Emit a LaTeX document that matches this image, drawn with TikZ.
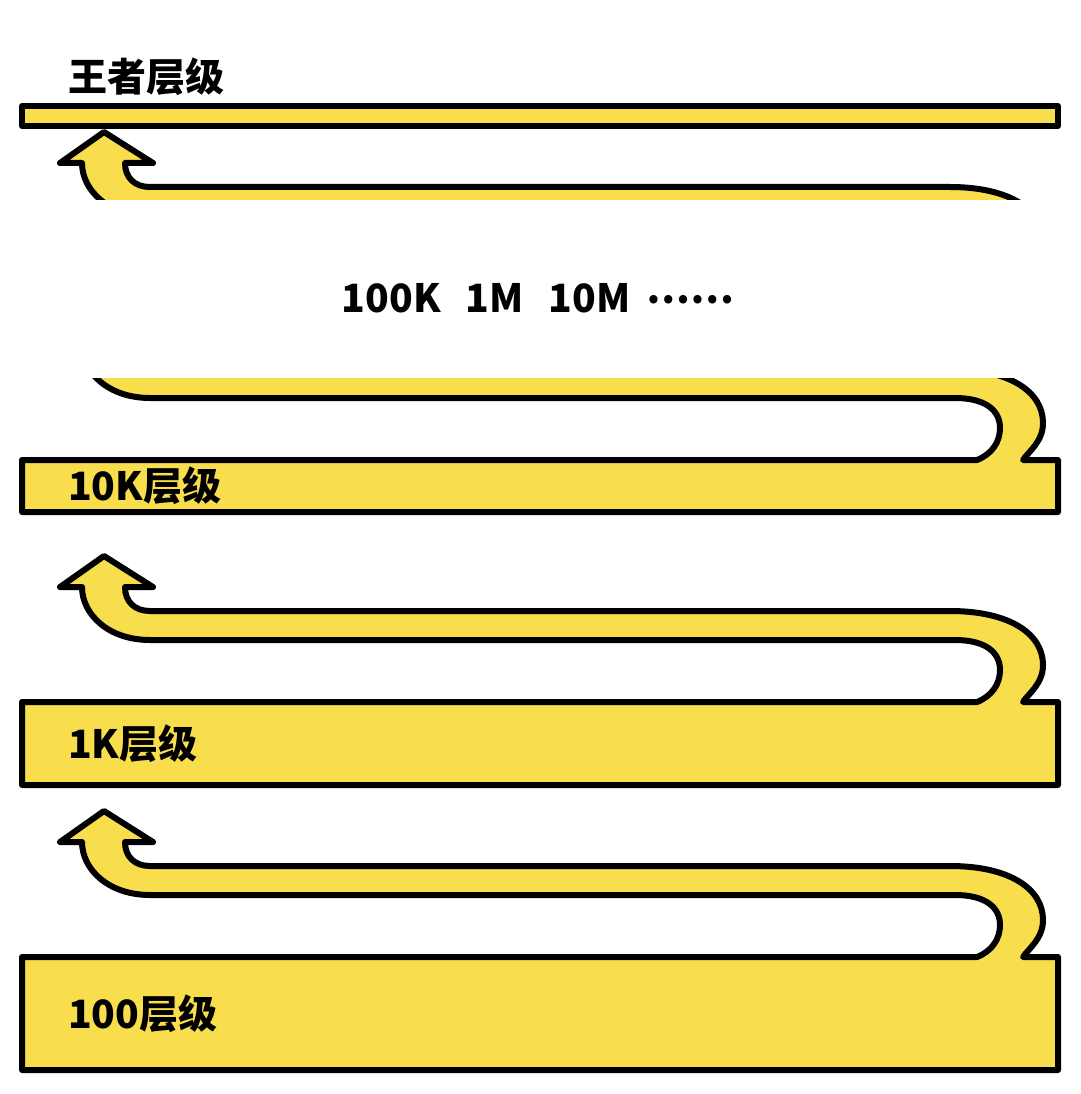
\documentclass[tikz,border=0pt]{standalone}
\usepackage{fontspec}
\setmainfont{Noto Sans CJK SC}[BoldFont={Noto Sans CJK SC Black}]
\definecolor{tieryellow}{RGB}{248,221,76}

\begin{document}
\begin{tikzpicture}[x=1pt,y=-1pt,
  tier/.style={draw=black,line width=6pt,fill=tieryellow,line join=round},
  tier label/.style={anchor=west,inner sep=0pt,font=\fontsize{39}{41}\selectfont\bfseries}]
  \useasboundingbox[fill=white] (0,0) rectangle (1080,1094);
  % each bar with the arrow that climbs from it
  \foreach \name/\ytop/\ybot/\lbl in {hundred/957/1070/100层级,
      thousand/702/785/1K层级, tenk/460/512/10K层级}{
    \begin{scope}[shift={(0,\ytop)}]
      \draw[tier] (22,\ybot-\ytop) -- (22,0) -- (977,0)
        .. controls (992,-6) and (1000,-18) .. (1000,-32)
        .. controls (1000,-50) and (985,-62) .. (955,-62)
        -- (150,-62)
        .. controls (108,-62) and (82,-88) .. (82,-115)
        -- (60,-115) -- (104,-146) -- (153,-115) -- (125,-115)
        .. controls (125,-100) and (135,-91) .. (150,-91)
        -- (950,-91)
        .. controls (1010,-91) and (1043,-68) .. (1043,-37)
        .. controls (1043,-18) and (1028,-8) .. (1023,0)
        -- (1058,0) -- (1058,\ybot-\ytop) -- cycle;
    \end{scope}
    \node[tier label] (\name) at (68,{(\ytop+\ybot)/2}) {\lbl};
  }
  % last arrow, its lower end is hidden
  \begin{scope}[shift={(0,278)}]
    \draw[tier] (977,0)
      .. controls (992,-6) and (1000,-18) .. (1000,-32)
      .. controls (1000,-50) and (985,-62) .. (955,-62)
      -- (150,-62)
      .. controls (108,-62) and (82,-88) .. (82,-115)
      -- (60,-115) -- (104,-146) -- (153,-115) -- (125,-115)
      .. controls (125,-100) and (135,-91) .. (150,-91)
      -- (950,-91)
      .. controls (1010,-91) and (1043,-68) .. (1043,-37)
      .. controls (1043,-18) and (1028,-8) .. (1023,0);
  \end{scope}
  \draw[tier] (22,106) rectangle (1058,126);
  \node[tier label] (king) at (68,77) {王者层级};
  % the levels in between
  \fill[white] (0,200) rectangle (1080,378);
  \node[font=\fontsize{39}{41}\selectfont\bfseries,inner sep=0pt] (more) at (538,298)
    {100K\hspace{25pt}1M\hspace{25pt}10M\hspace{16pt}\raisebox{9pt}{……}};
\end{tikzpicture}
\end{document}
